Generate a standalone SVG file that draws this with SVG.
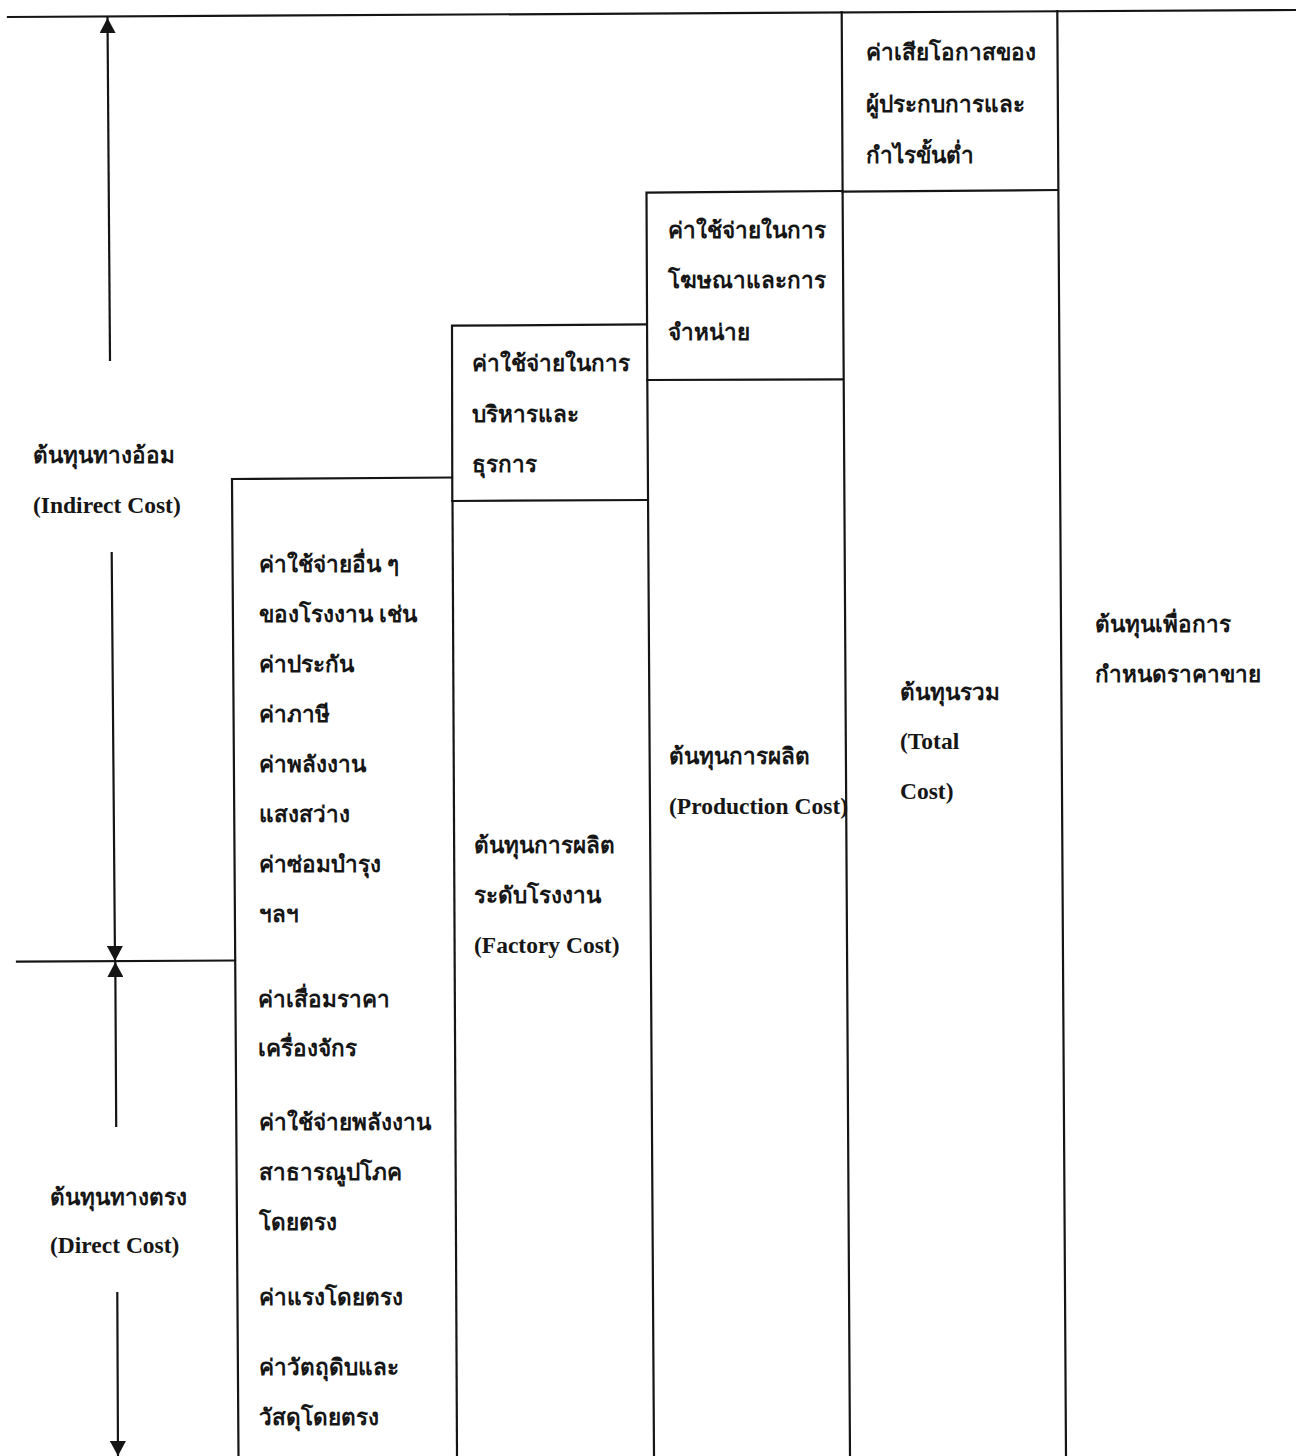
<svg xmlns="http://www.w3.org/2000/svg" width="1296" height="1456" viewBox="0 0 1296 1456">
  <style>
    .ln { stroke: #151515; stroke-width: 2.2; fill: none; stroke-linecap: square; }
    .th { font-family: "Noto Sans", "DejaVu Sans", sans-serif; font-size: 22.5px; font-weight: bold; fill: #161616; }
    .en { font-family: "Liberation Serif", serif; font-size: 23.5px; font-weight: bold; fill: #161616; }
  </style>
  <defs>
    <marker id="head" markerUnits="userSpaceOnUse" markerWidth="16" markerHeight="16" refX="15" refY="8" orient="auto">
      <path d="M0,0 L15,8 L0,16 z" fill="#151515"/>
    </marker>
  </defs>
  <rect width="1296" height="1456" fill="#ffffff"/>

  <!-- dimension lines and arrows -->
  <g id="connectors">
    <path class="ln" d="M8 17 L1296 10"/>
    <path class="ln" d="M17 961.7 L235 960.5"/>
    <line class="ln" x1="110" y1="360" x2="107.5" y2="18" marker-end="url(#head)"/>
    <line class="ln" x1="111.7" y1="553" x2="115" y2="961" marker-end="url(#head)"/>
    <line class="ln" x1="116.2" y1="1126" x2="115.3" y2="962" marker-end="url(#head)"/>
    <line class="ln" x1="117.3" y1="1293" x2="118" y2="1456" marker-end="url(#head)"/>
  </g>

  <!-- left-hand labels -->
  <g id="indirect-label">
    <text class="th" x="33" y="463">ต้นทุนทางอ้อม</text>
    <text class="en" x="33" y="513">(Indirect Cost)</text>
  </g>
  <g id="direct-label">
    <text class="th" x="50" y="1205">ต้นทุนทางตรง</text>
    <text class="en" x="50" y="1253">(Direct Cost)</text>
  </g>

  <!-- column 1: factory items -->
  <g id="factory-items">
    <path class="ln" d="M238.5 1456 L232 479 L452 477.5"/>
    <text class="th" x="259" y="572">ค่าใช้จ่ายอื่น ๆ</text>
    <text class="th" x="259" y="622">ของโรงงาน เช่น</text>
    <text class="th" x="259" y="672">ค่าประกัน</text>
    <text class="th" x="259" y="722">ค่าภาษี</text>
    <text class="th" x="259" y="772">ค่าพลังงาน</text>
    <text class="th" x="259" y="822">แสงสว่าง</text>
    <text class="th" x="259" y="872">ค่าซ่อมบำรุง</text>
    <text class="th" x="259" y="922">ฯลฯ</text>
    <text class="th" x="258" y="1007">ค่าเสื่อมราคา</text>
    <text class="th" x="258" y="1056">เครื่องจักร</text>
    <text class="th" x="259" y="1130">ค่าใช้จ่ายพลังงาน</text>
    <text class="th" x="259" y="1180">สาธารณูปโภค</text>
    <text class="th" x="259" y="1230">โดยตรง</text>
    <text class="th" x="259" y="1305">ค่าแรงโดยตรง</text>
    <text class="th" x="259" y="1375">ค่าวัตถุดิบและ</text>
    <text class="th" x="259" y="1425">วัสดุโดยตรง</text>
  </g>

  <!-- column 2: administration + factory cost -->
  <g id="admin-cost">
    <path class="ln" d="M452.3 500.8 L452 325.7 L646.7 324.3"/>
    <path class="ln" d="M452.5 501 L647.2 500"/>
    <text class="th" x="472" y="371">ค่าใช้จ่ายในการ</text>
    <text class="th" x="472" y="422">บริหารและ</text>
    <text class="th" x="472" y="472">ธุรการ</text>
  </g>
  <g id="factory-cost">
    <path class="ln" d="M452.5 501 L457 1456"/>
    <text class="th" x="474" y="853">ต้นทุนการผลิต</text>
    <text class="th" x="474" y="903">ระดับโรงงาน</text>
    <text class="en" x="474" y="953">(Factory Cost)</text>
  </g>

  <!-- column 3: selling + production cost -->
  <g id="selling-cost">
    <path class="ln" d="M647.3 380 L646.5 192.7 L842 191"/>
    <path class="ln" d="M647.3 380 L842.8 379.3"/>
    <text class="th" x="668" y="238">ค่าใช้จ่ายในการ</text>
    <text class="th" x="668" y="288">โฆษณาและการ</text>
    <text class="th" x="668" y="340">จำหน่าย</text>
  </g>
  <g id="production-cost">
    <path class="ln" d="M647.3 380 L654 1456"/>
    <text class="th" x="669" y="764">ต้นทุนการผลิต</text>
    <text class="en" x="669" y="814">(Production Cost)</text>
  </g>

  <!-- column 4: opportunity cost + total cost -->
  <g id="opportunity-cost">
    <path class="ln" d="M842.6 191.5 L841.7 12"/>
    <path class="ln" d="M842.6 191.7 L1057.8 190"/>
    <text class="th" x="866" y="60">ค่าเสียโอกาสของ</text>
    <text class="th" x="866" y="112">ผู้ประกบการและ</text>
    <text class="th" x="866" y="163">กำไรขั้นต่ำ</text>
  </g>
  <g id="total-cost">
    <path class="ln" d="M842.6 191.5 L850 1456"/>
    <text class="th" x="900" y="700">ต้นทุนรวม</text>
    <text class="en" x="900" y="749">(Total</text>
    <text class="en" x="900" y="799">Cost)</text>
  </g>

  <!-- column 5: selling price basis -->
  <g id="pricing-cost">
    <path class="ln" d="M1057.3 11 L1066 1456"/>
    <text class="th" x="1095" y="632">ต้นทุนเพื่อการ</text>
    <text class="th" x="1095" y="682">กำหนดราคาขาย</text>
  </g>
</svg>
